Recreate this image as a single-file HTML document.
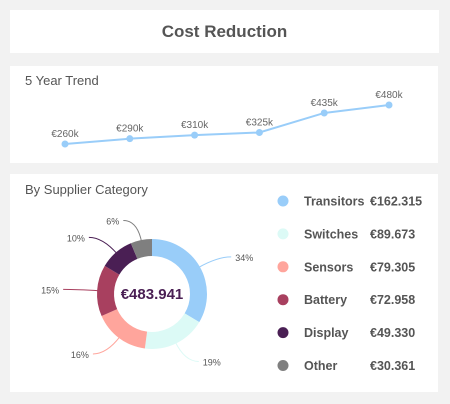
<!DOCTYPE html>
<html><head><meta charset="utf-8"><style>
body{margin:0;width:450px;height:404px;background:#f2f2f2;font-family:"Liberation Sans",sans-serif;overflow:hidden;position:relative}
.panel{position:absolute;background:#fff}
.t{position:absolute;color:#555;font-size:13px}
</style></head><body>
<div class="panel" style="left:10px;top:10px;width:429px;height:43px">
<div style="text-align:center;line-height:43px;font-size:17px;font-weight:bold;color:#555">Cost Reduction</div></div>
<div class="panel" style="left:10px;top:66px;width:428px;height:97px"></div>
<div class="panel" style="left:10px;top:174px;width:428px;height:218px"></div>
<div class="t" style="left:25px;top:73px">5 Year Trend</div>
<div class="t" style="left:25px;top:182px">By Supplier Category</div>
<svg id="c" width="450" height="404" style="position:absolute;left:0;top:0"></svg>
<script>
const years=["Y1","Y2","Y3","Y4","Y5","Y6"];
const trendValues=[260,290,310,325,435,480];
const trendLabels=["€260k","€290k","€310k","€325k","€435k","€480k"];
const categories=["Transitors","Switches","Sensors","Battery","Display","Other"];
const amounts=[162.315,89.673,79.305,72.958,49.330,30.361];
const amountLabels=["€162.315","€89.673","€79.305","€72.958","€49.330","€30.361"];
const totalLabel="€483.941";
const colors=["#99cdf9","#dcfaf6","#ffa59c","#a8405f","#4a1f54","#7f7f7f"];
const NS="http://www.w3.org/2000/svg";const svg=document.getElementById('c');
function mk(t,a,p){const e=document.createElementNS(NS,t);for(const k in a)e.setAttribute(k,a[k]);(p||svg).appendChild(e);return e;}
const xs=i=>65+i*64.8;const ys=v=>144-(v-260)*0.1773;
const pts=trendValues.map((v,i)=>xs(i)+","+ys(v)).join(" ");
const ln=mk('polyline',{points:pts,fill:'none',stroke:'#99cdf9','stroke-width':2});


trendValues.forEach((v,i)=>{
 const c=mk('circle',{cx:xs(i),cy:ys(v),r:3.5,fill:'#99cdf9'});
 
 
 const t=mk('text',{x:xs(i),y:ys(v)-7,'text-anchor':'middle','font-size':10,fill:'#666'});t.textContent=trendLabels[i];
 
 
});
const total=amounts.reduce((a,b)=>a+b,0);
const cx=152,cy=294,R=55,r=38;let a0=0;
amounts.forEach((v,i)=>{
 const a1=a0+v/total*2*Math.PI;
 const p=(a,rad)=>[cx+rad*Math.sin(a),cy-rad*Math.cos(a)];
 const [x1,y1]=p(a0,R),[x2,y2]=p(a1,R),[x3,y3]=p(a1,r),[x4,y4]=p(a0,r);const lg=a1-a0>Math.PI?1:0;
 const s=mk('path',{d:`M${x1},${y1}A${R},${R} 0 ${lg} 1 ${x2},${y2}L${x3},${y3}A${r},${r} 0 ${lg} 0 ${x4},${y4}Z`,fill:colors[i]});
 
 
 const m=(a0+a1)/2;const [lx1,ly1]=p(m,R-2),[lx2,ly2]=p(m,R+20);
 const ex=lx2+(Math.sin(m)>=0?14:-14);
 mk('path',{d:`M${lx1},${ly1}Q${lx2},${ly2} ${ex},${ly2}`,fill:'none',stroke:colors[i],'stroke-width':1});
 const t=mk('text',{x:ex+(Math.sin(m)>=0?4:-4),y:ly2+4,'text-anchor':Math.sin(m)>=0?'start':'end','font-size':9,fill:'#555'});
 t.textContent=Math.round(v/total*100)+"%";
 
 
 a0=a1;
});
const ct=mk('text',{x:cx,y:cy+5,'text-anchor':'middle','font-size':15,'font-weight':'bold',fill:'#4a1f54'});ct.textContent=totalLabel;


categories.forEach((c,i)=>{
 const y=201+i*32.9;
 const d=mk('circle',{cx:283,cy:y,r:5.5,fill:colors[i]});
 
 
 const t=mk('text',{x:304,y:y+4.5,'font-size':12.5,'font-weight':'bold',fill:'#555'});t.textContent=c;
 
 
 const v=mk('text',{x:370,y:y+4.5,'font-size':12.5,'font-weight':'bold',fill:'#555'});v.textContent=amountLabels[i];
 
 
});
</script>
</body></html>
